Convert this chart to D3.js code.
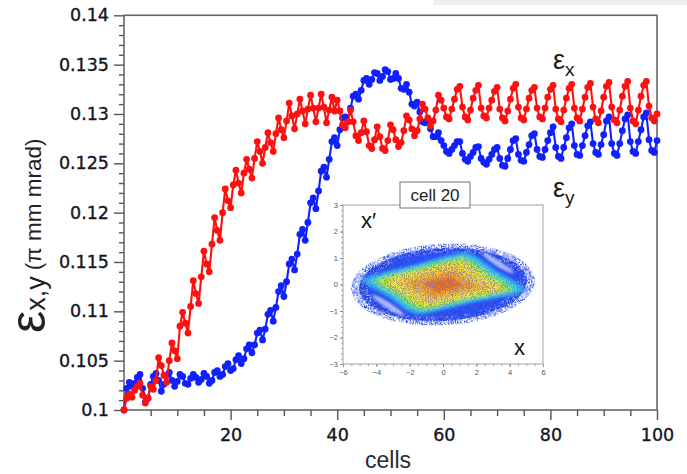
<!DOCTYPE html>
<html>
<head>
<meta charset="utf-8">
<script src="https://cdn.jsdelivr.net/npm/d3@7"></script>
<style>
  html, body { margin: 0; padding: 0; background: #fff; }
  svg { display: block; }
</style>
</head>
<body>
<svg id="chart" width="687" height="474"></svg>
<script>
// ---- data -------------------------------------------------------------
// emittance sampled every half cell, cells 0 … 100
const cellStep = 0.5;

// horizontal emittance εx (π mm mrad)
const emitX = [
  0.1000, 0.1012, 0.1016, 0.1013, 0.1020, 0.1024, 0.1027, 0.1015, 0.1007, 0.1012,
  0.1024, 0.1021, 0.1030, 0.1053, 0.1045, 0.1035, 0.1028, 0.1050, 0.1068, 0.1060,
  0.1052, 0.1085, 0.1099, 0.1088, 0.1078, 0.1105, 0.1131, 0.1118, 0.1108, 0.1135,
  0.1161, 0.1148, 0.1140, 0.1168, 0.1195, 0.1182, 0.1172, 0.1200, 0.1224, 0.1212,
  0.1205, 0.1228, 0.1243, 0.1230, 0.1220, 0.1240, 0.1254, 0.1244, 0.1235, 0.1255,
  0.1272, 0.1262, 0.1250, 0.1266, 0.1281, 0.1271, 0.1262, 0.1280, 0.1296, 0.1284,
  0.1276, 0.1293, 0.1311, 0.1298, 0.1285, 0.1300, 0.1315, 0.1303, 0.1290, 0.1305,
  0.1319, 0.1306, 0.1292, 0.1306, 0.1320, 0.1307, 0.1291, 0.1304, 0.1317, 0.1303,
  0.1314, 0.1303, 0.1289, 0.1286, 0.1292, 0.1304, 0.1292, 0.1278, 0.1273, 0.1281,
  0.1293, 0.1282, 0.1268, 0.1265, 0.1274, 0.1287, 0.1277, 0.1265, 0.1263, 0.1273,
  0.1289, 0.1284, 0.1274, 0.1267, 0.1271, 0.1283, 0.1298, 0.1294, 0.1285, 0.1278,
  0.1283, 0.1295, 0.1310, 0.1305, 0.1296, 0.1288, 0.1293, 0.1304, 0.1319, 0.1314,
  0.1306, 0.1297, 0.1295, 0.1305, 0.1315, 0.1325, 0.1328, 0.1307, 0.1297, 0.1294,
  0.1304, 0.1316, 0.1324, 0.1329, 0.1306, 0.1298, 0.1296, 0.1306, 0.1314, 0.1323,
  0.1327, 0.1305, 0.1296, 0.1293, 0.1303, 0.1315, 0.1326, 0.1330, 0.1307, 0.1296,
  0.1294, 0.1305, 0.1316, 0.1324, 0.1327, 0.1306, 0.1297, 0.1295, 0.1306, 0.1317,
  0.1325, 0.1329, 0.1305, 0.1295, 0.1292, 0.1304, 0.1316, 0.1326, 0.1330, 0.1306,
  0.1296, 0.1293, 0.1305, 0.1317, 0.1327, 0.1331, 0.1307, 0.1295, 0.1291, 0.1303,
  0.1317, 0.1328, 0.1332, 0.1307, 0.1294, 0.1291, 0.1304, 0.1318, 0.1328, 0.1333,
  0.1306, 0.1293, 0.1290, 0.1304, 0.1318, 0.1329, 0.1333, 0.1308, 0.1296, 0.1293,
  0.1300
];

// vertical emittance εy (π mm mrad)
const emitY = [
  0.1000, 0.1022, 0.1028, 0.1024, 0.1027, 0.1033, 0.1036, 0.1022, 0.1008, 0.1012,
  0.1026, 0.1034, 0.1037, 0.1030, 0.1019, 0.1026, 0.1035, 0.1038, 0.1030, 0.1024,
  0.1029, 0.1036, 0.1034, 0.1027, 0.1026, 0.1032, 0.1036, 0.1033, 0.1028, 0.1031,
  0.1037, 0.1034, 0.1027, 0.1030, 0.1038, 0.1040, 0.1034, 0.1036, 0.1044, 0.1047,
  0.1040, 0.1042, 0.1051, 0.1055, 0.1047, 0.1052, 0.1062, 0.1066, 0.1058, 0.1066,
  0.1078, 0.1081, 0.1071, 0.1082, 0.1097, 0.1101, 0.1090, 0.1104, 0.1120, 0.1126,
  0.1115, 0.1130, 0.1148, 0.1153, 0.1142, 0.1158, 0.1178, 0.1183, 0.1172, 0.1190,
  0.1210, 0.1215, 0.1204, 0.1222, 0.1242, 0.1246, 0.1236, 0.1254, 0.1272, 0.1276,
  0.1268, 0.1284, 0.1296, 0.1297, 0.1292, 0.1306, 0.1318, 0.1320, 0.1315, 0.1324,
  0.1334, 0.1336, 0.1330, 0.1335, 0.1342, 0.1341, 0.1334, 0.1338, 0.1345, 0.1343,
  0.1335, 0.1336, 0.1341, 0.1336, 0.1326, 0.1325, 0.1330, 0.1322, 0.1310, 0.1308,
  0.1312, 0.1302, 0.1292, 0.1291, 0.1294, 0.1285, 0.1277, 0.1277, 0.1281, 0.1273,
  0.1268, 0.1262, 0.1260, 0.1264, 0.1268, 0.1272, 0.1272, 0.1260, 0.1254, 0.1252,
  0.1257, 0.1261, 0.1266, 0.1267, 0.1255, 0.1251, 0.1249, 0.1254, 0.1259, 0.1264,
  0.1266, 0.1255, 0.1248, 0.1247, 0.1255, 0.1264, 0.1273, 0.1275, 0.1259, 0.1253,
  0.1252, 0.1261, 0.1269, 0.1278, 0.1280, 0.1264, 0.1257, 0.1256, 0.1264, 0.1273,
  0.1281, 0.1287, 0.1266, 0.1257, 0.1255, 0.1266, 0.1276, 0.1286, 0.1290, 0.1268,
  0.1259, 0.1258, 0.1268, 0.1278, 0.1288, 0.1292, 0.1270, 0.1261, 0.1259, 0.1269,
  0.1279, 0.1293, 0.1297, 0.1270, 0.1260, 0.1258, 0.1270, 0.1283, 0.1295, 0.1299,
  0.1272, 0.1262, 0.1260, 0.1272, 0.1284, 0.1297, 0.1301, 0.1274, 0.1263, 0.1261,
  0.1273
];

const yMajorTicks = [0.1, 0.105, 0.11, 0.115, 0.12, 0.125, 0.13, 0.135, 0.14];
const xMajorTicks = [20, 40, 60, 80, 100];

// inset: transverse phase space (x, x′) at one cell
const insetTitle = "cell 20";
const insetXTicks = [-6, -4, -2, 0, 2, 4, 6];
const insetYTicks = [-3, -2, -1, 0, 1, 2, 3];
// outer halo extent (x, x′ semi-axes) and the parallelogram-shaped dense core
const haloSemiAxes = [5.3, 1.5];
const coreOutline = [[-4.5, 0.18], [-1.6, 0.7], [1.3, 1.12], [3.1, 0.45], [4.6, -0.22], [1.6, -0.64], [-1.45, -1.04], [-3.1, -0.42]];
// thin gaps between halo arms and core: [cx, cy, rx, ry]
const haloGaps = [[-3.3, -0.78, 1.1, 0.11], [3.3, 0.8, 1.1, 0.11]];
// density levels of the core, from edge to centre: [scale, colour]
const coreLevels = [
  [1.07, "#36a6f2"], [1.00, "#3cd6dc"], [0.93, "#6ee884"], [0.85, "#baf04e"],
  [0.75, "#f2e840"], [0.60, "#f8cc38"], [0.44, "#f8a430"], [0.26, "#f07420"]
];

// ---- layout -----------------------------------------------------------
const svg = d3.select("#chart");
const W = 687, H = 474;
const plot = { left: 124, right: 657, top: 15.3, bottom: 410 };
const axisColor = "#555";
const textColor = "#15151f";
const tickFont = "'DejaVu Sans', Verdana, sans-serif";
const labelFont = "'Liberation Sans', Arial, sans-serif";
const redColor = "#ff1010";
const blueColor = "#1020ff";

svg.append("rect").attr("width", W).attr("height", H).attr("fill", "#fff");
svg.append("rect").attr("x", 433).attr("y", 0).attr("width", W - 433).attr("height", 5).attr("fill", "#efefef");

const x = d3.scaleLinear().domain([0, 100]).range([plot.left, plot.right]);
const y = d3.scaleLinear().domain([0.1, 0.14]).range([plot.bottom, plot.top]);

// ---- axes -------------------------------------------------------------
const yMinor = d3.range(100, 141).filter(v => v % 5 !== 0).map(v => v / 1000);
const xMinor = d3.range(5, 100, 5).filter(v => v % 20 !== 0);

const gYMinor = svg.append("g").attr("transform", `translate(${plot.left},0)`)
  .call(d3.axisLeft(y).tickValues(yMinor).tickSize(5).tickFormat(""));
const gY = svg.append("g").attr("transform", `translate(${plot.left},0)`)
  .call(d3.axisLeft(y).tickValues(yMajorTicks).tickSize(10).tickPadding(5)
    .tickFormat(d => String(+d.toFixed(3))));
const gXMinor = svg.append("g").attr("transform", `translate(0,${plot.bottom})`)
  .call(d3.axisBottom(x).tickValues(xMinor).tickSize(6).tickFormat(""));
const gX = svg.append("g").attr("transform", `translate(0,${plot.bottom})`)
  .call(d3.axisBottom(x).tickValues(xMajorTicks).tickSize(10).tickPadding(9));

[gYMinor, gY, gXMinor, gX].forEach(g => {
  g.select(".domain").remove();
  g.selectAll("line").attr("stroke", axisColor).attr("stroke-width", 1.4);
  g.selectAll("text").attr("font-family", tickFont).attr("font-size", 17.5)
    .attr("fill", textColor).attr("stroke", textColor).attr("stroke-width", 0.35);
});

// plot frame
svg.append("rect")
  .attr("x", plot.left).attr("y", plot.top)
  .attr("width", plot.right - plot.left).attr("height", plot.bottom - plot.top)
  .attr("fill", "none").attr("stroke", "#666").attr("stroke-width", 1.6);

// axis titles
svg.append("text")
  .attr("x", 388).attr("y", 468).attr("text-anchor", "middle")
  .attr("font-family", labelFont).attr("font-size", 23).attr("fill", "#2a2a2a")
  .text("cells");

const yTitle = svg.append("text")
  .attr("transform", "translate(45,333) rotate(-90)")
  .attr("font-family", labelFont).attr("fill", "#222");
yTitle.append("tspan").attr("font-size", 50).text("ε");
yTitle.append("tspan").attr("font-size", 27).text("x,y");
yTitle.append("tspan").attr("font-size", 22.5).attr("dx", 6).attr("dy", -4).text("(π mm mrad)");

// ---- series -----------------------------------------------------------
const line = d3.line()
  .x((d, i) => x(i * cellStep))
  .y(d => y(d));

function drawSeries(values, colour) {
  const g = svg.append("g");
  g.append("path").attr("d", line(values))
    .attr("fill", "none").attr("stroke", colour).attr("stroke-width", 2.1);
  g.selectAll("circle").data(values).join("circle")
    .attr("cx", (d, i) => x(i * cellStep))
    .attr("cy", d => y(d))
    .attr("r", 3.4)
    .attr("fill", colour);
}
drawSeries(emitY, blueColor);
drawSeries(emitX, redColor);

// series labels
function seriesLabel(px, py, sub) {
  const t = svg.append("text").attr("x", px).attr("y", py)
    .attr("font-family", labelFont).attr("fill", "#1a1a1a");
  t.append("tspan").attr("font-size", 27).text("ε");
  t.append("tspan").attr("font-size", 19).attr("dy", 7).text(sub);
}
seriesLabel(553, 69, "x");
seriesLabel(553, 197, "y");

// ---- inset: phase space -----------------------------------------------
const inset = { left: 343, right: 543, top: 205, bottom: 364 };
const ix = d3.scaleLinear().domain([-6, 6]).range([inset.left, inset.right]);
const iy = d3.scaleLinear().domain([-3, 3]).range([inset.bottom, inset.top]);

const defs = svg.append("defs");
defs.append("clipPath").attr("id", "insetClip")
  .append("rect").attr("x", inset.left).attr("y", inset.top)
  .attr("width", inset.right - inset.left).attr("height", inset.bottom - inset.top);

function grainFilter(id, seed, slope, offset) {
  const f = defs.append("filter").attr("id", id)
    .attr("filterUnits", "userSpaceOnUse")
    .attr("x", inset.left).attr("y", inset.top)
    .attr("width", inset.right - inset.left).attr("height", inset.bottom - inset.top);
  f.append("feTurbulence").attr("type", "fractalNoise").attr("baseFrequency", 0.95)
    .attr("numOctaves", 2).attr("seed", seed).attr("result", "noise");
  f.append("feColorMatrix").attr("in", "noise").attr("type", "matrix")
    .attr("values", `0 0 0 0 0  0 0 0 0 0  0 0 0 0 0  ${slope} 0 0 0 ${offset}`)
    .attr("result", "mask");
  f.append("feComposite").attr("in", "SourceGraphic").attr("in2", "mask").attr("operator", "in");
}
grainFilter("grainSparse", 4, 7, -3.2);
grainFilter("grainDense", 9, 6, -1.9);
grainFilter("grainFine", 13, 5, -1.1);

const blurCore = defs.append("filter").attr("id", "blurCore")
  .attr("x", "-20%").attr("y", "-30%").attr("width", "140%").attr("height", "160%");
blurCore.append("feGaussianBlur").attr("stdDeviation", 1.7);

const blurGap = defs.append("filter").attr("id", "blurGap")
  .attr("x", "-30%").attr("y", "-80%").attr("width", "160%").attr("height", "260%");
blurGap.append("feGaussianBlur").attr("stdDeviation", 1.0);

const gi = svg.append("g");
gi.append("rect").attr("x", inset.left).attr("y", inset.top)
  .attr("width", inset.right - inset.left).attr("height", inset.bottom - inset.top)
  .attr("fill", "#fff");

const phase = gi.append("g").attr("clip-path", "url(#insetClip)");
const cx0 = ix(0), cy0 = iy(0);
const hrx = ix(haloSemiAxes[0]) - cx0, hry = cy0 - iy(haloSemiAxes[1]);

// sparse outer halo and denser inner halo
phase.append("ellipse").attr("cx", cx0).attr("cy", cy0)
  .attr("rx", hrx * 1.04).attr("ry", hry * 1.02)
  .attr("transform", `rotate(-3,${cx0},${cy0})`)
  .attr("fill", "#3454ee").attr("filter", "url(#grainSparse)");
phase.append("ellipse").attr("cx", cx0).attr("cy", cy0)
  .attr("rx", hrx * 0.95).attr("ry", hry * 0.92)
  .attr("transform", `rotate(-3,${cx0},${cy0})`)
  .attr("fill", "#2444e6").attr("filter", "url(#grainDense)");
phase.append("ellipse").attr("cx", cx0).attr("cy", cy0)
  .attr("rx", hrx * 0.84).attr("ry", hry * 0.8)
  .attr("transform", `rotate(-3,${cx0},${cy0})`)
  .attr("fill", "#2a4ef0").attr("filter", "url(#grainFine)");

// gaps between the halo arms and the core
const gapAngle = Math.atan2(iy(-1.04) - iy(0.18), ix(-1.45) - ix(-4.5)) * 180 / Math.PI;
phase.selectAll(".gap").data(haloGaps).join("ellipse")
  .attr("cx", d => ix(d[0])).attr("cy", d => iy(d[1]))
  .attr("rx", d => ix(d[2]) - cx0).attr("ry", d => cy0 - iy(d[3]))
  .attr("transform", d => `rotate(${gapAngle},${ix(d[0])},${iy(d[1])})`)
  .attr("fill", "#fff").attr("opacity", 0.6).attr("filter", "url(#blurGap)");

// dense core: nested contours from edge to centre
const coreLine = d3.line().curve(d3.curveCardinalClosed.tension(0.3))
  .x(p => ix(p[0])).y(p => iy(p[1]));
const core = phase.append("g").attr("filter", "url(#blurCore)");
coreLevels.forEach(([s, colour]) => {
  core.append("path")
    .attr("d", coreLine(coreOutline.map(p => [p[0] * s, p[1] * s])))
    .attr("fill", colour);
});
// speckle over the core
phase.append("path")
  .attr("d", coreLine(coreOutline.map(p => [p[0] * 0.9, p[1] * 0.9])))
  .attr("fill", "#e86a1c").attr("opacity", 0.3).attr("filter", "url(#grainSparse)");
phase.append("path")
  .attr("d", coreLine(coreOutline.map(p => [p[0] * 1.04, p[1] * 1.04])))
  .attr("fill", "#2a5cf0").attr("opacity", 0.35).attr("filter", "url(#grainSparse)");

// inset axes
const gix = gi.append("g").attr("transform", `translate(0,${inset.bottom})`)
  .call(d3.axisBottom(ix).tickValues(insetXTicks).tickSize(3).tickPadding(3).tickFormat(d3.format("d")));
const gixm = gi.append("g").attr("transform", `translate(0,${inset.bottom})`)
  .call(d3.axisBottom(ix).tickValues(d3.range(-55, 60, 5).map(v => v / 10)).tickSize(1.8).tickFormat(""));
const giy = gi.append("g").attr("transform", `translate(${inset.left},0)`)
  .call(d3.axisLeft(iy).tickValues(insetYTicks).tickSize(3).tickPadding(2).tickFormat(d3.format("d")));
const giym = gi.append("g").attr("transform", `translate(${inset.left},0)`)
  .call(d3.axisLeft(iy).tickValues(d3.range(-28, 30, 2).map(v => v / 10)).tickSize(1.8).tickFormat(""));
[gix, gixm, giy, giym].forEach(g => {
  g.select(".domain").remove();
  g.selectAll("line").attr("stroke", "#777").attr("stroke-width", 0.8);
  g.selectAll("text").attr("font-family", labelFont).attr("font-size", 7.5).attr("fill", "#555");
});
gi.append("rect").attr("x", inset.left).attr("y", inset.top)
  .attr("width", inset.right - inset.left).attr("height", inset.bottom - inset.top)
  .attr("fill", "none").attr("stroke", "#a0a0a0").attr("stroke-width", 1);

gi.append("text").attr("x", 361).attr("y", 228)
  .attr("font-family", labelFont).attr("font-size", 22).attr("fill", "#111").text("x′");
gi.append("text").attr("x", 514).attr("y", 355)
  .attr("font-family", labelFont).attr("font-size", 22).attr("fill", "#111").text("x");

// inset title box
gi.append("rect").attr("x", 400).attr("y", 182).attr("width", 70).attr("height", 26)
  .attr("fill", "#fff").attr("stroke", "#8a8a8a").attr("stroke-width", 1.2);
gi.append("text").attr("x", 435).attr("y", 201).attr("text-anchor", "middle")
  .attr("font-family", labelFont).attr("font-size", 17).attr("fill", "#222").text(insetTitle);
</script>
</body>
</html>
